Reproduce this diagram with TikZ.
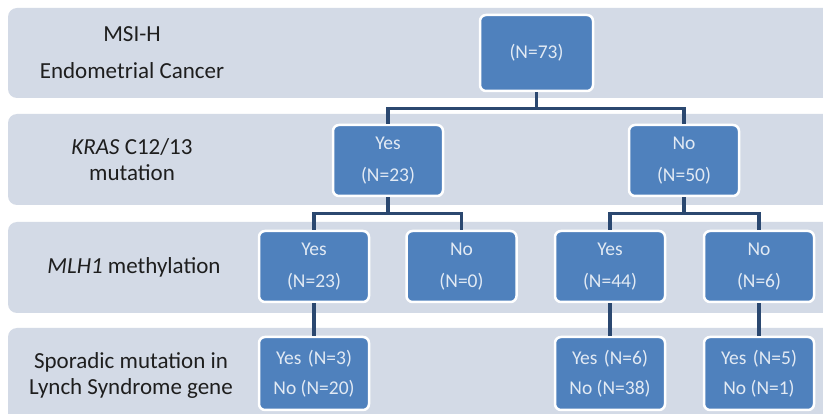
\documentclass[tikz,border=0pt]{standalone}
\usepackage{fontspec}
\setmainfont{Carlito}
\begin{document}
\begin{tikzpicture}[x=1pt,y=-1pt,
  band/.style={fill=bandc, rounded corners=9pt},
  bx/.style={draw=white, line width=2.5pt, fill=boxc, rounded corners=6pt, minimum width=110pt, minimum height=71pt, text=boxtext, font=\fontsize{19.5}{32}\selectfont, align=center, inner sep=0pt},
  bxb/.style={bx, font=\fontsize{19.5}{30}\selectfont},
  lbl/.style={text=labc, align=center, font=\fontsize{23}{26}\selectfont},
  conn/.style={draw=connc, line width=3.2pt}
]
\definecolor{bandc}{HTML}{D3DAE6}
\definecolor{boxc}{HTML}{4F81BD}
\definecolor{boxtext}{HTML}{E2EAF4}
\definecolor{labc}{HTML}{1E1E1E}
\definecolor{connc}{HTML}{2B4870}
\useasboundingbox (0,0) rectangle (823,414);
\fill[white] (0,0) rectangle (823,414);
\begin{scope}
\clip (0,0) rectangle (823,414);
\fill[band] (8,8) rectangle (840,98);
\fill[band] (8,114) rectangle (840,205);
\fill[band] (8,222) rectangle (840,313);
\fill[band] (8,328) rectangle (840,430);
\end{scope}
% labels
\node[lbl, font=\fontsize{23}{37}\selectfont] (l1) at (132,53) {MSI-H\\Endometrial Cancer};
\node[lbl] (l2) at (132,160) {\textit{KRAS} C12/13\\mutation};
\node[lbl] (l3) at (134,267) {\textit{MLH1} methylation};
\node[lbl] (l4) at (131,375) {Sporadic mutation in\\Lynch Syndrome gene};
% boxes
\node[bx, minimum width=113pt, minimum height=76pt] (root) at (536.5,53) {(N=73)};
\node[bx] (ky) at (388,160.5) {Yes\\(N=23)};
\node[bx] (kn) at (684,160.5) {No\\(N=50)};
\node[bx] (my) at (314,266.5) {Yes\\(N=23)};
\node[bx] (mn) at (461.5,266.5) {No\\(N=0)};
\node[bx] (my2) at (610,266.5) {Yes\\(N=44)};
\node[bx] (mn2) at (759,266.5) {No\\(N=6)};
\node[bxb, minimum height=73pt] (s1) at (314,373.5) {Yes\,\,(N=3)\\No (N=20)};
\node[bxb, minimum height=73pt] (s2) at (610,373.5) {Yes\,\,(N=6)\\No (N=38)};
\node[bxb, minimum height=73pt] (s3) at (759,373.5) {Yes\,\,(N=5)\\No (N=1)};
% connectors
\draw[conn] (root.south) -- ++(0,16) -| (ky.north);
\draw[conn] (root.south) ++(0,16) -| (kn.north);
\draw[conn] (ky.south) -- ++(0,16) -| (my.north);
\draw[conn] (ky.south) ++(0,16) -| (mn.north);
\draw[conn] (kn.south) -- ++(0,16) -| (my2.north);
\draw[conn] (kn.south) ++(0,16) -| (mn2.north);
\draw[conn] (my.south) -- (s1.north);
\draw[conn] (my2.south) -- (s2.north);
\draw[conn] (mn2.south) -- (s3.north);
\end{tikzpicture}
\end{document}
